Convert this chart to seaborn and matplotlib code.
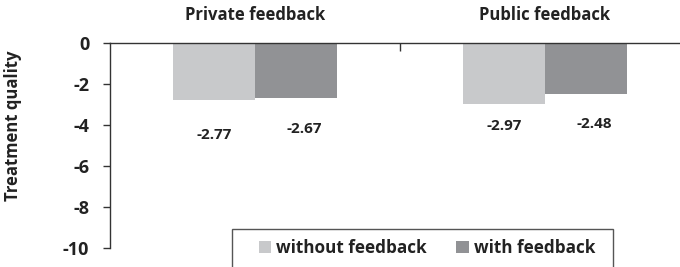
import numpy as np
import pandas as pd
import seaborn as sns
import matplotlib.pyplot as plt
from matplotlib.patches import Patch, Rectangle

# data
panels = ['Private feedback', 'Public feedback']
conditions = ['without feedback', 'with feedback']
without_fb = [-2.77, -2.97]
with_fb = [-2.67, -2.48]
# where the value labels sit (y in data units)
label_y_without = [-4.5, -4.05]
label_y_with = [-4.2, -3.95]
yticks = [0, -2, -4, -6, -8, -10]

colors = ['#c8c9cb', '#919295']

sns.set_style('white')
plt.rcParams['font.family'] = ['Open Sans', 'DejaVu Sans']
plt.rcParams['font.weight'] = 'bold'

df = pd.DataFrame({
    'panel': panels * 2,
    'condition': [conditions[0]] * 2 + [conditions[1]] * 2,
    'value': without_fb + with_fb,
})

fig = plt.figure(figsize=(6.8, 2.67), dpi=100)
ax = fig.add_axes([110 / 680, 1 - 248 / 267, 570 / 680, 205 / 267])

sns.barplot(data=df, x='panel', y='value', hue='condition', hue_order=conditions,
            palette=colors, saturation=1, width=0.566, gap=0, linewidth=0,
            ax=ax, legend=False)

ax.set_xlim(-0.5, 1.466)
ax.set_ylim(-10, 0)
ax.set_yticks(yticks)
ax.set_yticklabels([str(t) for t in yticks], fontsize=13, fontweight='bold', color='#222222')
ax.tick_params(axis='y', direction='out', length=5, width=1, color='#333333', pad=10, left=True)

# x-axis drawn as the line at zero (top spine), with a divider tick between panels
ax.xaxis.tick_top()
ax.set_xticks([0.5])
ax.set_xticklabels([])
ax.tick_params(axis='x', direction='in', length=6, width=1, color='#333333', top=True, bottom=False)
ax.set_xlabel('')
ax.set_ylabel('Treatment quality', fontsize=12, fontweight='bold', color='#222222')
ax.yaxis.set_label_coords(22 / 680, 1 - 126 / 267, transform=fig.transFigure)

for side in ['right', 'bottom']:
    ax.spines[side].set_visible(False)
for side in ['left', 'top']:
    ax.spines[side].set_color('#333333')
    ax.spines[side].set_linewidth(1)

# panel titles
for i, name in enumerate(panels):
    ax.annotate(name, (i, 1.0), xycoords=('data', 'axes fraction'), xytext=(0, 20),
                textcoords='offset points', ha='center', va='center',
                fontsize=12, fontweight='bold', color='#222222')

# value labels
off = 0.566 / 4
for i in range(len(panels)):
    ax.text(i - off, label_y_without[i], f'{without_fb[i]:.2f}', ha='center', va='center',
            fontsize=11, fontweight='bold', color='#222222')
    ax.text(i + off + 0.03, label_y_with[i], f'{with_fb[i]:.2f}', ha='center', va='center',
            fontsize=11, fontweight='bold', color='#222222')

# legend frame drawn separately, it runs off the bottom of the figure
fig.patches.append(Rectangle((232 / 680, -0.05), 381 / 680, 0.05 + 1 - 229 / 267,
                             transform=fig.transFigure, facecolor='white',
                             edgecolor='#555555', linewidth=1, zorder=5))
handles = [Patch(facecolor=c, edgecolor='none') for c in colors]
leg = fig.legend(handles, conditions, loc='center', bbox_to_anchor=(427 / 680, 1 - 248 / 267),
                 ncol=2, frameon=False, handlelength=0.75, handleheight=0.75,
                 handletextpad=0.3, columnspacing=1.7, borderpad=0,
                 prop={'weight': 'bold', 'size': 12.3})
leg.set_zorder(6)
for t in leg.get_texts():
    t.set_color('#222222')

fig.savefig('out.png', dpi=100)
